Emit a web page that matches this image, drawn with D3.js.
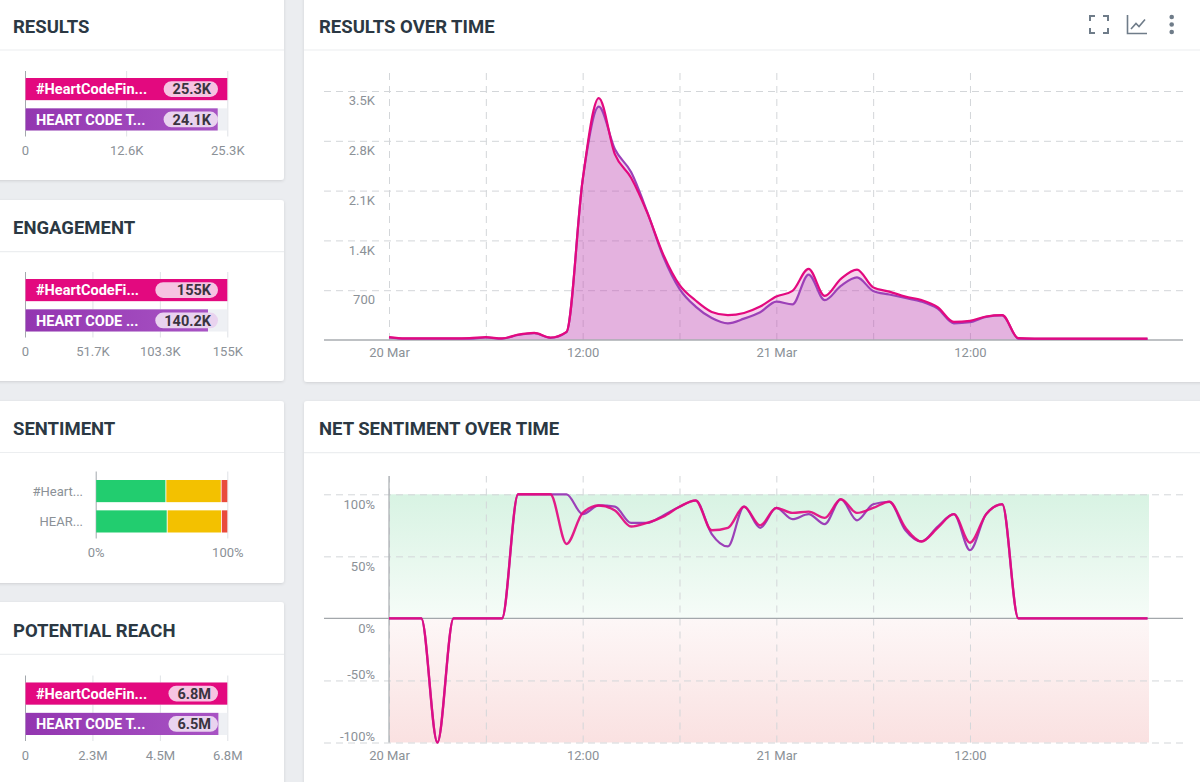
<!DOCTYPE html>
<html><head><meta charset="utf-8">
<script src="https://cdn.jsdelivr.net/npm/d3@7"></script>
<style>
body{margin:0;background:#ebedf0;font-family:Roboto,"Noto Sans",sans-serif;overflow:hidden}
svg{display:block}
</style></head><body>
<svg id="c" width="1200" height="782"></svg>
<script>
// ---------------- DATA ----------------
const seriesNames = ["#HeartCodeFinland", "HEART CODE"];
const seriesColors = ["#e3097f", "#9c40b8"];

const resultsLabels = ["#HeartCodeFin...", "HEART CODE T..."];
const resultsValues = [25300, 24100];
const resultsValueText = ["25.3K", "24.1K"];
const resultsTicks = [0, 12650, 25300];
const resultsTickLabels = ["0", "12.6K", "25.3K"];

const engagementLabels = ["#HeartCodeFi...", "HEART CODE ..."];
const engagementValues = [155000, 140200];
const engagementValueText = ["155K", "140.2K"];
const engagementTicks = [0, 51667, 103333, 155000];
const engagementTickLabels = ["0", "51.7K", "103.3K", "155K"];

const sentimentLabels = ["#Heart...", "HEAR..."];
const sentimentPositive = [53.2, 54.2];
const sentimentNeutral = [42.0, 41.2];
const sentimentNegative = [4.8, 4.6];
const sentimentTicks = [0, 100];
const sentimentTickLabels = ["0%", "100%"];

const reachLabels = ["#HeartCodeFin...", "HEART CODE T..."];
const reachValues = [6800000, 6500000];
const reachValueText = ["6.8M", "6.5M"];
const reachTicks = [0, 2266667, 4533333, 6800000];
const reachTickLabels = ["0", "2.3M", "4.5M", "6.8M"];

// hourly, 20 Mar 00:00 .. 21 Mar 23:00
const resultsPink = [40,22,22,22,22,25,40,22,75,100,35,115,2250,3400,2610,2280,1790,1200,775,555,395,350,380,470,
  610,690,1000,620,860,990,740,680,610,560,460,255,270,330,350,25,20,20,20,20,20,20,20,20];
const resultsPurple = [35,18,18,18,18,20,35,18,70,95,30,110,2250,3280,2680,2360,1800,1170,720,470,310,235,300,390,
  540,500,920,560,760,880,690,640,590,540,440,235,250,325,345,18,15,15,15,15,15,15,15,15];

const sentimentPink = [0,0,0,-100,0,0,0,0,100,100,100,60,85,91,87,74,77,82,90,95,71,73,90,75,
  89,85,86,81,96,85,89,94,73,62,73,84,61,84,92,0,0,0,0,0,0,0,0,0];
const sentimentPurple = [0,0,0,-100,0,0,0,0,100,100,100,100,84,91,90,77,77,83,90,95,68,58,90,73,
  89,80,84,76,96,79,92,94,71,62,74,84,55,84,92,0,0,0,0,0,0,0,0,0];

const timeStart = "2019-03-20T00:00";
const xGridTicks = ["2019-03-20T00:00","2019-03-20T06:00","2019-03-20T12:00","2019-03-20T18:00",
  "2019-03-21T00:00","2019-03-21T06:00","2019-03-21T12:00"];
const xLabelTicks = ["2019-03-20T00:00","2019-03-20T12:00","2019-03-21T00:00","2019-03-21T12:00"];
const xTickLabels = ["20 Mar","12:00","21 Mar","12:00"];

const resultsYTicks = [700, 1400, 2100, 2800, 3500];
const resultsYTickLabels = ["700", "1.4K", "2.1K", "2.8K", "3.5K"];
const sentYTicks = [100, 50, 0, -50, -100];
const sentYTickLabels = ["100%", "50%", "0%", "-50%", "-100%"];

// ---------------- DRAW ----------------
const svg = d3.select("#c");
const defs = svg.append("defs");
const flt = defs.append("filter").attr("id","sh").attr("x","-5%").attr("y","-5%").attr("width","110%").attr("height","115%");
flt.append("feDropShadow").attr("dx",0).attr("dy",1).attr("stdDeviation",1.4).attr("flood-color","#000").attr("flood-opacity",0.12);

const pg = defs.append("linearGradient").attr("id","purpleBar");
pg.append("stop").attr("offset","0%").attr("stop-color","#9336b0");
pg.append("stop").attr("offset","100%").attr("stop-color","#a853c4");
const gg = defs.append("linearGradient").attr("id","greenBand").attr("x1",0).attr("x2",0).attr("y1",0).attr("y2",1);
gg.append("stop").attr("offset","0%").attr("stop-color","#d8f3e3");
gg.append("stop").attr("offset","100%").attr("stop-color","#f6fcf8");
const rg = defs.append("linearGradient").attr("id","redBand").attr("x1",0).attr("x2",0).attr("y1",0).attr("y2",1);
rg.append("stop").attr("offset","0%").attr("stop-color","#fdf7f7");
rg.append("stop").attr("offset","100%").attr("stop-color","#fae1e1");

const titleColor = "#2b3843", axisText = "#8b9197", sepColor = "#eceef0";

const cards = [
 {x:-10,y:-10,w:294,h:190,title:"RESULTS",ty:32.5,sep:50,tx:13},
 {x:-10,y:200,w:294,h:181,title:"ENGAGEMENT",ty:234,sep:251.7,tx:13},
 {x:-10,y:401,w:294,h:182,title:"SENTIMENT",ty:435,sep:452.5,tx:13},
 {x:-10,y:602,w:294,h:200,title:"POTENTIAL REACH",ty:636.7,sep:654.3,tx:13},
 {x:304,y:-10,w:906,h:392,title:"RESULTS OVER TIME",ty:32.5,sep:50,tx:319},
 {x:304,y:401,w:906,h:400,title:"NET SENTIMENT OVER TIME",ty:435,sep:452.7,tx:319}
];
cards.forEach(c=>{
  svg.append("rect").attr("x",c.x).attr("y",c.y).attr("width",c.w).attr("height",c.h)
    .attr("rx",3).attr("fill","#fff").attr("filter","url(#sh)");
  svg.append("line").attr("x1",Math.max(c.x,0)).attr("x2",c.x+c.w).attr("y1",c.sep).attr("y2",c.sep)
    .attr("stroke",sepColor).attr("stroke-width",1.2);
  svg.append("text").attr("x",c.tx).attr("y",c.ty).text(c.title)
    .attr("font-size","18.5px").attr("font-weight","700").attr("fill",titleColor);
});

// icons
const ic = svg.append("g").attr("stroke","#6f7c89").attr("stroke-width",2).attr("fill","none");
ic.append("path").attr("d","M1090,21V16H1095 M1103,16H1108V21 M1108,28V33H1103 M1095,33H1090V28");
ic.append("path").attr("d","M1127.5,15V33.5H1147").attr("stroke-width",1.6);
ic.append("path").attr("d","M1131,29L1136,23.5L1139,26.5L1145,19.5").attr("stroke-width",1.6);
[17,24.5,32].forEach(cy=>svg.append("circle").attr("cx",1171.7).attr("cy",cy).attr("r",2.3).attr("fill","#6f7c89"));

function styleAxisText(g){ g.selectAll("text").attr("fill",axisText).attr("font-size","13px").attr("font-family","Roboto"); g.select(".domain").remove(); }

function barPanel(off, labels, values, valueText, ticks, tickLabels){
  const x = d3.scaleLinear().domain([0, ticks[ticks.length-1]]).range([25, 227.3]);
  const y = d3.scaleBand().domain(labels).range([78+off, 130.5+off]).paddingInner(0.27);
  const g = svg.append("g");
  const grid = g.append("g").attr("transform",`translate(0,${136.5+off})`)
    .call(d3.axisBottom(x).tickValues(ticks).tickSize(-65.5).tickFormat(""));
  grid.select(".domain").remove();
  grid.selectAll("line").attr("stroke",(d,i)=>i===0?"#a3a8ad":"#dfe2e6").attr("stroke-width",1);
  const lab = g.append("g").attr("transform",`translate(0,${146+off})`)
    .call(d3.axisBottom(x).tickValues(ticks).tickSize(0).tickPadding(0).tickFormat((d,i)=>tickLabels[i]));
  styleAxisText(lab);
  lab.selectAll("text").attr("dy","0.71em");
  g.selectAll(".trk").data(labels).join("rect").attr("x",x(0)+0.5).attr("width",x.range()[1]-x(0)-0.5)
    .attr("y",d=>y(d)).attr("height",y.bandwidth()).attr("fill","#eef0f4");
  g.selectAll(".bar").data(values).join("rect").attr("x",x(0)+0.5).attr("width",d=>x(d)-x(0)-0.5)
    .attr("y",(d,i)=>y(labels[i])).attr("height",y.bandwidth())
    .attr("fill",(d,i)=>i===0?seriesColors[0]:"url(#purpleBar)");
  const vt = g.selectAll(".vt").data(valueText).join("text").attr("x",211).attr("text-anchor","end")
    .attr("y",(d,i)=>y(labels[i])+y.bandwidth()/2).attr("dy","0.36em")
    .attr("font-size","14.5px").attr("font-weight","700").attr("fill","#3a3340").text(d=>d);
  let mw = 0; vt.each(function(){ mw = Math.max(mw, this.getComputedTextLength()); });
  const pw = mw + 16;
  g.selectAll(".pill").data(valueText).join("rect").attr("x",218-pw).attr("width",pw)
    .attr("y",(d,i)=>y(labels[i])+y.bandwidth()/2-7.8).attr("height",15.6).attr("rx",7.8)
    .attr("fill",(d,i)=>i===0?"#f6c4e2":"#e9d3ef");
  vt.raise();
  g.selectAll(".lt").data(labels).join("text").attr("x",36).attr("y",d=>y(d)+y.bandwidth()/2).attr("dy","0.36em")
    .attr("font-size","14.5px").attr("font-weight","700").attr("fill","#fff").text(d=>d);
}
barPanel(0, resultsLabels, resultsValues, resultsValueText, resultsTicks, resultsTickLabels);
barPanel(201, engagementLabels, engagementValues, engagementValueText, engagementTicks, engagementTickLabels);
barPanel(604.5, reachLabels, reachValues, reachValueText, reachTicks, reachTickLabels);

// sentiment stacked
(function(){
  const off = 402;
  const x = d3.scaleLinear().domain([0,100]).range([95.7, 227.3]);
  const y = d3.scaleBand().domain(sentimentLabels).range([78+off, 130.5+off]).paddingInner(0.27);
  const rows = sentimentLabels.map((l,i)=>({label:l,pos:sentimentPositive[i],neu:sentimentNeutral[i],neg:sentimentNegative[i]}));
  const stack = d3.stack().keys(["pos","neu","neg"])(rows);
  const cols = {pos:"#22cd6f",neu:"#f3c100",neg:"#e94b3c"};
  const g = svg.append("g");
  const grid = g.append("g").attr("transform",`translate(0,${136.5+off})`)
    .call(d3.axisBottom(x).tickValues(sentimentTicks).tickSize(-67).tickFormat(""));
  grid.select(".domain").remove();
  grid.selectAll("line").attr("stroke",(d,i)=>i===0?"#a3a8ad":"#dfe2e6");
  const lab = g.append("g").attr("transform",`translate(0,${146+off})`)
    .call(d3.axisBottom(x).tickValues(sentimentTicks).tickSize(0).tickPadding(0).tickFormat((d,i)=>sentimentTickLabels[i]));
  styleAxisText(lab); lab.selectAll("text").attr("dy","0.71em");
  stack.forEach(layer=>{
    g.selectAll(null).data(layer).join("rect")
      .attr("x",d=>x(d[0])+(layer.key==="pos"?0.5:0.6)).attr("width",d=>Math.max(0,x(d[1])-x(d[0])-(layer.key==="neg"?0.6:0.8)))
      .attr("y",d=>y(d.data.label)).attr("height",y.bandwidth()).attr("fill",cols[layer.key]);
  });
  g.selectAll(".sl").data(sentimentLabels).join("text").attr("x",83).attr("text-anchor","end")
    .attr("y",d=>y(d)+y.bandwidth()/2).attr("dy","0.36em").attr("font-size","13px").attr("fill",axisText).text(d=>d);
})();

// time charts
const parse = d3.timeParse("%Y-%m-%dT%H:%M");
const t0 = parse(timeStart);
const times = d3.range(resultsPink.length).map(i=>d3.timeHour.offset(t0, i));
const x = d3.scaleTime().domain([times[0], times[times.length-1]]).range([389, 1147.5]);
const gridT = xGridTicks.map(parse), labT = xLabelTicks.map(parse);
const LX0 = 324, LX1 = 1183;

function timeGrid(yTop, yBottom){
  const g = svg.append("g").attr("transform",`translate(0,${yBottom})`)
    .call(d3.axisBottom(x).tickValues(gridT).tickSize(-(yBottom-yTop)).tickFormat(""));
  g.select(".domain").remove();
  g.selectAll("line").attr("stroke","#d3d6d9").attr("stroke-dasharray","7,6");
}
function timeLabels(yAxis){
  const g = svg.append("g").attr("transform",`translate(0,${yAxis})`)
    .call(d3.axisBottom(x).tickValues(labT).tickSize(0).tickPadding(0).tickFormat((d,i)=>xTickLabels[i]));
  styleAxisText(g); g.selectAll("text").attr("dy","0.71em");
}

// Results over time
(function(){
  const y = d3.scaleLinear().domain([0,3500]).range([340, 91]);
  const hg = svg.append("g").attr("transform",`translate(${LX1},0)`)
    .call(d3.axisLeft(y).tickValues(resultsYTicks).tickSize(LX1-LX0).tickFormat(""));
  hg.select(".domain").remove();
  hg.selectAll("line").attr("stroke","#d3d6d9").attr("stroke-dasharray","7,5");
  timeGrid(73, 340);
  const lg = svg.append("g").attr("transform","translate(375,0)")
    .call(d3.axisLeft(y).tickValues(resultsYTicks).tickSize(0).tickPadding(0).tickFormat((d,i)=>resultsYTickLabels[i]));
  styleAxisText(lg); lg.selectAll("text").attr("dy","1.05em");
  const area = d3.area().x((d,i)=>x(times[i])).y0(y(0)).y1(d=>y(d)).curve(d3.curveMonotoneX);
  const line = d3.line().x((d,i)=>x(times[i])).y(d=>y(d)).curve(d3.curveMonotoneX);
  svg.append("path").datum(resultsPink).attr("d",area).attr("fill","#dc50b4").attr("fill-opacity",0.25);
  svg.append("path").datum(resultsPurple).attr("d",area).attr("fill","#b050b8").attr("fill-opacity",0.25);
  svg.append("line").attr("x1",LX0).attr("x2",LX1).attr("y1",y(0)).attr("y2",y(0)).attr("stroke","#a9adb1").attr("stroke-width",1.3);
  svg.append("path").datum(resultsPurple).attr("d",line).attr("fill","none").attr("stroke",seriesColors[1]).attr("stroke-width",2.2);
  svg.append("path").datum(resultsPink).attr("d",line).attr("fill","none").attr("stroke",seriesColors[0]).attr("stroke-width",2.2);
  timeLabels(348);
})();

// Net sentiment over time
(function(){
  const y = d3.scaleLinear().domain([-100,100]).range([742.5, 494.3]);
  svg.append("rect").attr("x",x.range()[0]).attr("width",x.range()[1]-x.range()[0]+1.5)
    .attr("y",y(100)).attr("height",y(0)-y(100)).attr("fill","url(#greenBand)");
  svg.append("rect").attr("x",x.range()[0]).attr("width",x.range()[1]-x.range()[0]+1.5)
    .attr("y",y(0)).attr("height",y(-100)-y(0)).attr("fill","url(#redBand)");
  const hg = svg.append("g").attr("transform",`translate(${LX1},0)`)
    .call(d3.axisLeft(y).tickValues(sentYTicks.filter(d=>d!==0)).tickSize(LX1-LX0).tickFormat(""));
  hg.select(".domain").remove();
  hg.selectAll("line").attr("stroke","#d3d6d9").attr("stroke-dasharray","7,5");
  timeGrid(476, 742.5);
  svg.append("line").attr("x1",389).attr("x2",389).attr("y1",476).attr("y2",742.5).attr("stroke","#a9adb1").attr("stroke-width",1.2);
  svg.append("line").attr("x1",LX0).attr("x2",LX1).attr("y1",y(0)).attr("y2",y(0)).attr("stroke","#a3a7ab").attr("stroke-width",1.3);
  const lg = svg.append("g").attr("transform","translate(375,0)")
    .call(d3.axisLeft(y).tickValues(sentYTicks).tickSize(0).tickPadding(0).tickFormat((d,i)=>sentYTickLabels[i]));
  styleAxisText(lg); lg.selectAll("text").attr("dy",d=>d>=0?"1.1em":"-0.12em");
  const line = d3.line().x((d,i)=>x(times[i])).y(d=>y(d)).curve(d3.curveMonotoneX);
  svg.append("path").datum(sentimentPurple).attr("d",line).attr("fill","none").attr("stroke",seriesColors[1]).attr("stroke-width",2.2);
  svg.append("path").datum(sentimentPink).attr("d",line).attr("fill","none").attr("stroke",seriesColors[0]).attr("stroke-width",2.4).attr("stroke-opacity",0.92);
  timeLabels(750.5);
})();
</script></body></html>
